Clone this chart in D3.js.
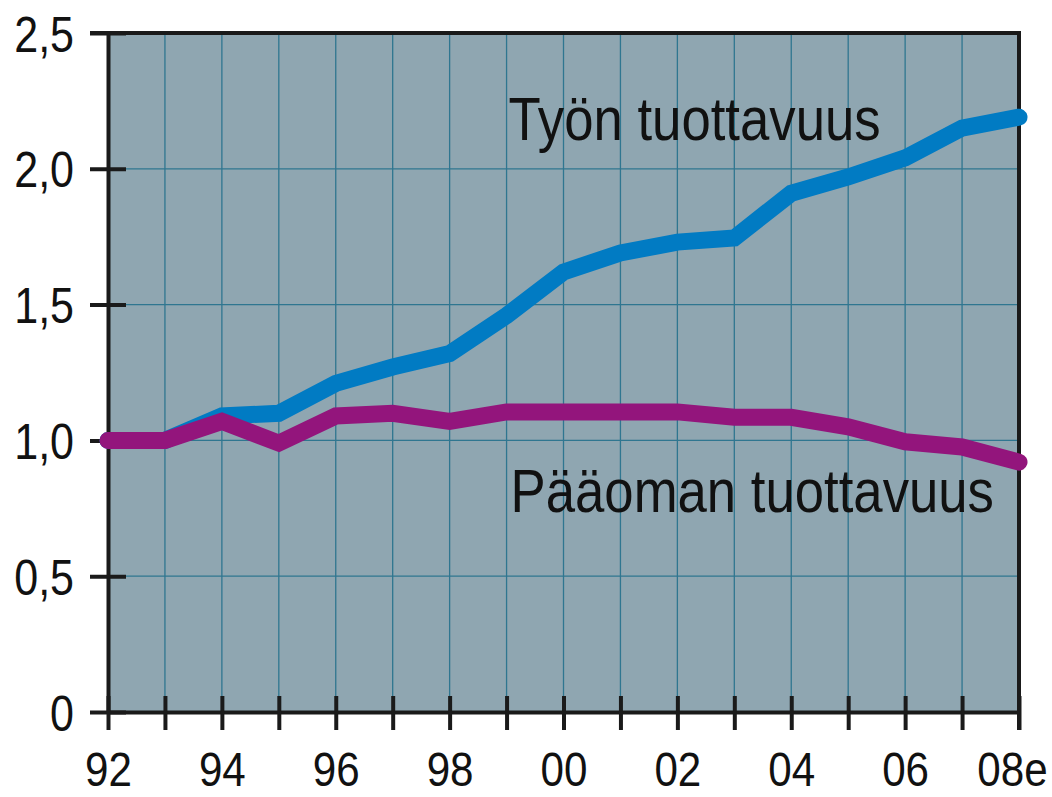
<!DOCTYPE html>
<html><head><meta charset="utf-8">
<script src="https://cdn.jsdelivr.net/npm/d3@7"></script>
<style>body{margin:0;background:#fff}svg{display:block}text{font-family:"Liberation Sans",Arial,sans-serif;fill:#111}</style>
</head><body>
<script>
const years = [1992,1993,1994,1995,1996,1997,1998,1999,2000,2001,2002,2003,2004,2005,2006,2007,2008];
const tyonTuottavuus = [1.00,1.00,1.09,1.10,1.21,1.27,1.32,1.46,1.62,1.69,1.73,1.745,1.91,1.97,2.04,2.15,2.19];
const paaomanTuottavuus = [1.00,1.00,1.07,0.99,1.09,1.10,1.07,1.105,1.105,1.105,1.105,1.085,1.085,1.05,0.995,0.976,0.92];
const yTicks = [0,0.5,1.0,1.5,2.0,2.5];
const yTickLabels = ["0","0,5","1,0","1,5","2,0","2,5"];
const xLabelYears = [1992,1994,1996,1998,2000,2002,2004,2006,2008];
const xTickLabels = ["92","94","96","98","00","02","04","06","08e"];
const seriesNames = ["Työn tuottavuus","Pääoman tuottavuus"];

const W=1052,H=797;
const L=108,R=1019,T=33,B=712;
const svg=d3.select("body").append("svg").attr("width",W).attr("height",H);
const x=d3.scaleLinear().domain([1992,2008]).range([L,R]);
const y=d3.scaleLinear().domain([0,2.5]).range([B,T]);

svg.append("rect").attr("x",L).attr("y",T).attr("width",R-L).attr("height",B-T).attr("fill","#8fa6b1");

// grid
svg.append("g").selectAll("line").data(years.slice(1,-1)).join("line")
  .attr("x1",d=>x(d)).attr("x2",d=>x(d)).attr("y1",T).attr("y2",B)
  .attr("stroke","#2f7690").attr("stroke-width",1.3);
svg.append("g").selectAll("line").data(yTicks.slice(1,-1)).join("line")
  .attr("x1",L).attr("x2",R).attr("y1",d=>y(d)).attr("y2",d=>y(d))
  .attr("stroke","#2f7690").attr("stroke-width",1.3);

// y axis
const yAxis=d3.axisLeft(y).tickValues(yTicks).tickFormat((d,i)=>yTickLabels[i]).tickSizeInner(18).tickSizeOuter(0).tickPadding(16);
const gy=svg.append("g").attr("transform",`translate(${L},0)`).call(yAxis);
gy.select(".domain").attr("stroke","#1a1a1a").attr("stroke-width",4);
gy.selectAll(".tick line").attr("stroke","#1a1a1a").attr("stroke-width",4).attr("x2",-18).attr("x1",18);
gy.selectAll(".tick text").attr("font-size",50).attr("dy","0.36em").attr("fill","#111");

// x axis
const xAxis=d3.axisBottom(x).tickValues(years).tickFormat(d=>{const i=xLabelYears.indexOf(d);return i<0?"":xTickLabels[i];}).tickSizeInner(18).tickSizeOuter(0).tickPadding(21);
const gx=svg.append("g").attr("transform",`translate(0,${B})`).call(xAxis);
gx.select(".domain").attr("stroke","#1a1a1a").attr("stroke-width",4);
gx.selectAll(".tick line").attr("stroke","#1a1a1a").attr("stroke-width",4).attr("y1",-16).attr("y2",18);
gx.selectAll(".tick text").attr("font-size",49).attr("dy","0.71em").attr("fill","#111")
  .attr("dx",d=>d===2008?-7:0);

// top & right border
svg.append("line").attr("x1",90).attr("x2",R+2).attr("y1",T).attr("y2",T).attr("stroke","#1a1a1a").attr("stroke-width",4);
svg.append("line").attr("x1",R).attr("x2",R).attr("y1",T).attr("y2",B+18).attr("stroke","#1a1a1a").attr("stroke-width",4);

// condense text
svg.selectAll(".tick text").each(function(){const n=this.getComputedTextLength(); if(n>0){d3.select(this).attr("textLength",n*0.86).attr("lengthAdjust","spacingAndGlyphs");}});

// lines
const line=d3.line().x((d,i)=>x(years[i])).y(d=>y(d));
svg.append("path").datum(tyonTuottavuus).attr("d",line).attr("fill","none").attr("stroke","#017bc3").attr("stroke-width",17).attr("stroke-linecap","round").attr("stroke-linejoin","miter");
svg.append("path").datum(paaomanTuottavuus).attr("d",line).attr("fill","none").attr("stroke","#93157c").attr("stroke-width",17).attr("stroke-linecap","round").attr("stroke-linejoin","miter");

// labels
const lab=[{t:seriesNames[0],x:x(1999)+2,y:140},{t:seriesNames[1],x:x(1999)+4,y:512}];
svg.selectAll("text.lab").data(lab).join("text").attr("class","lab")
  .attr("x",d=>d.x).attr("y",d=>d.y).attr("font-size",62).text(d=>d.t)
  .each(function(){const n=this.getComputedTextLength();d3.select(this).attr("textLength",n*0.85).attr("lengthAdjust","spacingAndGlyphs");});
</script>
</body></html>
